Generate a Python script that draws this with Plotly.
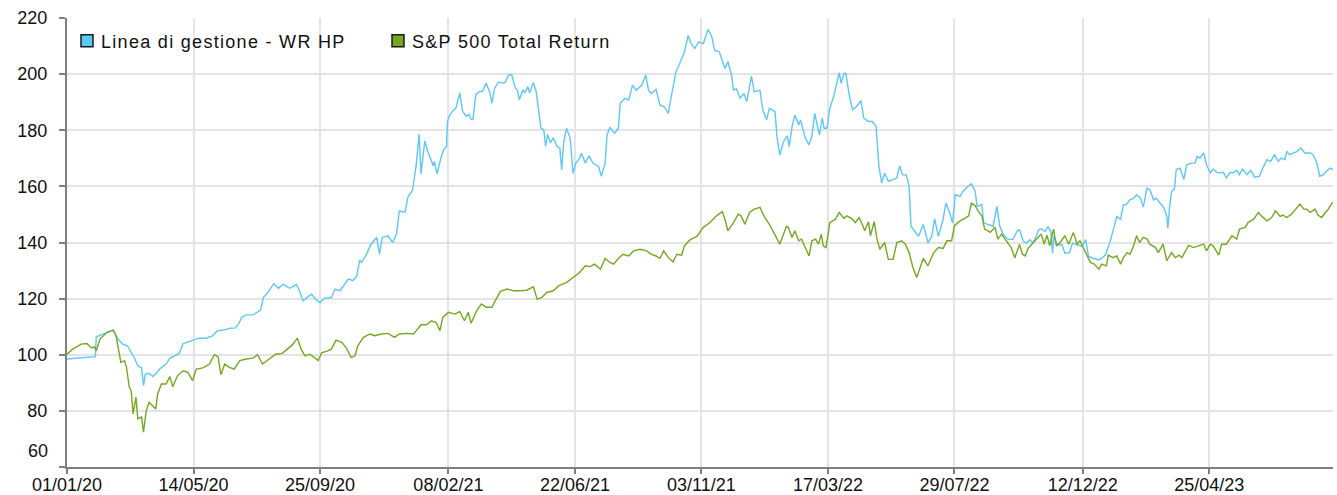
import pandas as pd
import plotly.graph_objects as go

START = "2020-01-01"

# ---- data (days since 01/01/2020, index values) ----
blue_name = "Linea di gestione - WR HP"
blue_days = [
    0, 15, 30, 31, 40, 49, 54, 59, 64, 68,
    72, 75, 79, 81, 83, 87, 91, 94, 98, 105,
    109, 114, 119, 123, 130, 135, 140, 147, 154, 159,
    166, 173, 178, 182, 185, 190, 197, 205, 208, 212,
    219, 224, 229, 236, 243, 247, 250, 256, 259, 264,
    268, 273, 280, 284, 289, 293, 298, 303, 307, 310,
    312, 317, 322, 328, 331, 334, 340, 345, 349, 352,
    358, 361, 366, 370, 373, 375, 379, 382, 388, 389,
    392, 396, 399, 402, 403, 405, 408, 412, 414, 416,
    419, 423, 426, 428, 430, 433, 437, 440, 444, 448,
    450, 453, 457, 461, 464, 468, 471, 475, 477, 479,
    483, 485, 488, 490, 494, 497, 499, 502, 505, 507,
    509, 512, 515, 519, 522, 524, 526, 529, 533, 536,
    539, 542, 545, 549, 553, 557, 563, 566, 570, 572,
    575, 580, 584, 586, 591, 595, 599, 603, 609, 613,
    616, 619, 624, 628, 633, 637, 640, 645, 649, 654,
    658, 661, 665, 669, 674, 677, 679, 683, 686, 691,
    697, 700, 704, 706, 709, 713, 717, 720, 725, 728,
    734, 737, 741, 744, 750, 752, 755, 759, 763, 765,
    768, 771, 775, 777, 782, 786, 789, 792, 795, 797,
    800, 802, 805, 808, 812, 815, 818, 820, 823, 825,
    828, 832, 836, 841, 844, 849, 853, 857, 860, 863,
    866, 870, 875, 879, 882, 885, 889, 892, 894, 898,
    902, 907, 912, 916, 919, 923, 928, 931, 935, 938,
    941, 946, 949, 955, 958, 962, 964, 969, 971, 976,
    981, 985, 988, 992, 997, 1002, 1007, 1009, 1013, 1016,
    1020, 1023, 1027, 1029, 1032, 1036, 1039, 1042, 1044, 1045,
    1049, 1054, 1057, 1062, 1065, 1070, 1075, 1079, 1082, 1087,
    1093, 1096, 1100, 1105, 1108, 1112, 1116, 1119, 1122, 1126,
    1130, 1133, 1137, 1140, 1144, 1147, 1151, 1154, 1158, 1162,
    1165, 1166, 1168, 1170, 1173, 1175, 1179, 1182, 1183, 1186,
    1191, 1195, 1197, 1200, 1204, 1207, 1211, 1214, 1218, 1221,
    1225, 1228, 1232, 1235, 1239, 1242, 1245, 1250, 1254, 1258,
    1263, 1266, 1271, 1275, 1279, 1283, 1286, 1290, 1292, 1295,
    1299, 1303, 1307, 1311, 1317, 1320, 1324, 1327, 1331, 1334,
    1338, 1341,
]
blue_values = [
    98.5, 98.9, 99.3, 106.4, 107.5, 108.8, 105.6, 103.8, 103.2, 100.8,
    98.5, 96.1, 95.3, 89.0, 93.1, 93.4, 92.2, 93.1, 94.9, 96.7,
    98.8, 99.6, 100.5, 104.0, 104.7, 105.2, 105.9, 105.9, 106.7, 108.5,
    108.8, 109.5, 109.5, 111.1, 113.3, 114.2, 114.2, 115.9, 120.4, 121.8,
    125.3, 123.7, 125.1, 123.7, 125.1, 122.1, 119.2, 120.9, 121.6, 119.5,
    118.6, 120.2, 120.4, 123.4, 122.8, 124.6, 127.0, 126.4, 128.1, 133.7,
    132.9, 135.6, 139.4, 141.8, 135.9, 141.8, 142.4, 140.0, 143.0, 151.3,
    150.7, 156.1, 158.7, 167.9, 178.6, 164.4, 176.2, 172.6, 167.3, 169.0,
    164.4, 170.0, 173.1, 174.3, 183.2, 185.0, 186.7, 187.9, 190.3, 193.3,
    186.7, 185.0, 185.6, 183.8, 183.8, 192.7, 193.8, 193.8, 196.8, 193.3,
    189.7, 195.0, 197.2, 196.8, 197.0, 199.8, 199.8, 195.0, 194.4, 190.9,
    194.4, 193.3, 195.6, 193.3, 197.0, 193.8, 188.5, 180.8, 180.2, 174.3,
    178.5, 175.5, 177.3, 174.3, 173.6, 165.9, 175.4, 180.7, 177.2, 164.7,
    168.3, 169.5, 171.8, 168.3, 170.9, 168.3, 167.1, 163.6, 168.3, 178.3,
    181.1, 178.9, 180.7, 189.6, 191.4, 190.8, 196.1, 194.3, 196.1, 199.6,
    194.3, 193.1, 194.6, 189.0, 188.2, 186.0, 192.0, 200.8, 203.8, 207.9,
    213.8, 210.9, 209.1, 211.5, 210.9, 214.4, 215.9, 213.3, 208.5, 207.9,
    202.0, 204.4, 199.6, 194.3, 194.9, 191.4, 193.1, 190.2, 199.3, 193.7,
    194.3, 187.2, 183.7, 187.8, 186.6, 177.8, 171.2, 176.0, 178.0, 174.2,
    181.3, 185.4, 181.9, 183.7, 177.2, 174.8, 177.8, 186.0, 180.7, 178.3,
    184.3, 180.7, 180.7, 187.8, 192.0, 196.1, 200.5, 196.7, 200.2, 200.2,
    193.7, 187.2, 188.4, 190.5, 184.3, 183.1, 183.1, 181.3, 167.1, 161.2,
    164.7, 161.8, 162.4, 163.0, 167.3, 164.1, 164.1, 160.0, 145.8, 144.0,
    142.2, 146.4, 139.9, 142.2, 148.4, 142.2, 148.2, 154.1, 150.5, 147.0,
    157.0, 156.4, 158.2, 160.2, 160.9, 158.2, 152.9, 153.5, 147.0, 146.4,
    145.8, 152.9, 145.8, 142.8, 141.1, 141.1, 144.4, 144.5, 140.4, 139.8,
    141.0, 139.8, 142.4, 144.5, 144.8, 143.9, 145.7, 143.9, 136.2, 142.1,
    139.2, 139.2, 136.2, 136.4, 139.8, 139.2, 138.6, 141.0, 135.0, 134.4,
    133.8, 134.4, 135.6, 140.4, 144.5, 149.3, 148.3, 153.5, 153.5, 155.2,
    155.8, 157.0, 155.8, 152.6, 159.4, 158.8, 155.2, 155.8, 154.0, 152.3,
    149.3, 145.1, 152.9, 158.2, 159.0, 166.0, 166.5, 163.6, 162.4, 167.7,
    168.3, 168.3, 170.7, 170.1, 171.9, 167.7, 164.8, 166.2, 165.0, 164.8,
    165.0, 163.0, 165.0, 164.8, 165.7, 164.2, 166.2, 164.2, 165.7, 163.3,
    163.6, 166.0, 169.5, 168.9, 171.3, 168.9, 170.1, 169.5, 172.5, 171.3,
    171.9, 172.5, 173.7, 171.9, 171.9, 171.3, 168.3, 163.6, 164.2, 165.4,
    166.5, 166.0,
]

green_name = "S&P 500 Total Return"
green_days = [
    0, 6, 15, 21, 26, 29, 31, 35, 42, 49,
    52, 55, 57, 61, 63, 66, 68, 70, 73, 75,
    79, 81, 84, 87, 91, 94, 96, 100, 105, 109,
    112, 117, 123, 128, 133, 137, 144, 151, 156, 160,
    163, 167, 172, 177, 183, 190, 197, 202, 207, 214,
    221, 228, 235, 239, 244, 248, 252, 257, 262, 266,
    270, 275, 280, 285, 291, 296, 301, 305, 308, 314,
    321, 326, 333, 340, 347, 352, 360, 367, 370, 375,
    381, 386, 391, 395, 398, 404, 411, 416, 421, 425,
    428, 434, 439, 444, 450, 455, 459, 466, 473, 480,
    487, 494, 498, 503, 508, 515, 521, 529, 536, 543,
    549, 554, 559, 565, 570, 575, 579, 584, 589, 595,
    600, 607, 614, 619, 624, 628, 632, 637, 642, 646,
    651, 654, 660, 667, 674, 681, 688, 694, 697, 700,
    706, 711, 714, 718, 723, 728, 734, 739, 744, 750,
    755, 762, 764, 768, 771, 775, 778, 782, 786, 789,
    793, 796, 799, 801, 804, 808, 814, 818, 823, 826,
    831, 835, 839, 843, 845, 849, 851, 855, 858, 861,
    866, 870, 875, 879, 884, 888, 892, 896, 900, 903,
    907, 912, 918, 923, 928, 932, 937, 940, 946, 951,
    955, 958, 962, 966, 969, 972, 978, 983, 986, 990,
    995, 1000, 1004, 1009, 1012, 1015, 1018, 1022, 1025, 1029,
    1032, 1035, 1038, 1041, 1045, 1048, 1052, 1057, 1061, 1066,
    1070, 1073, 1077, 1080, 1084, 1088, 1093, 1096, 1101, 1103,
    1108, 1112, 1116, 1119, 1123, 1126, 1130, 1133, 1136, 1140,
    1144, 1147, 1153, 1156, 1161, 1165, 1170, 1174, 1178, 1181,
    1184, 1188, 1193, 1198, 1204, 1207, 1211, 1214, 1220, 1223,
    1228, 1234, 1239, 1242, 1248, 1251, 1257, 1262, 1265, 1271,
    1276, 1280, 1285, 1288, 1292, 1297, 1303, 1306, 1310, 1313,
    1317, 1322, 1325, 1329, 1333, 1336, 1340, 1341,
]
green_values = [
    100.2, 102.0, 103.8, 104.0, 102.4, 102.8, 101.4, 105.6, 107.9, 108.8,
    106.7, 100.2, 97.3, 97.9, 95.5, 88.4, 87.2, 78.9, 84.9, 77.2,
    77.8, 72.4, 80.1, 83.1, 81.9, 80.7, 86.0, 89.6, 89.6, 92.2,
    88.6, 92.5, 94.3, 93.7, 90.8, 94.9, 95.3, 96.7, 100.0, 99.3,
    92.9, 96.7, 95.5, 94.9, 97.9, 98.5, 98.8, 100.0, 96.7, 98.5,
    100.2, 100.5, 102.6, 103.6, 105.9, 102.0, 99.6, 100.2, 99.0, 97.9,
    100.8, 101.2, 102.0, 105.2, 104.4, 102.4, 99.0, 99.6, 103.2, 106.2,
    107.4, 106.8, 107.4, 107.6, 106.2, 107.4, 107.6, 107.4, 108.6, 110.7,
    110.7, 112.1, 111.5, 108.6, 113.3, 115.1, 114.5, 115.4, 112.1, 115.1,
    111.2, 115.7, 118.1, 116.9, 116.9, 120.4, 122.6, 123.4, 122.8, 122.8,
    123.0, 124.2, 119.8, 120.4, 122.2, 122.8, 124.6, 125.7, 127.5, 129.3,
    131.7, 131.4, 132.3, 130.5, 134.3, 132.9, 132.3, 134.3, 135.8, 135.2,
    137.0, 137.6, 137.0, 135.8, 135.2, 134.3, 137.0, 134.6, 133.1, 135.8,
    135.5, 138.8, 141.0, 142.1, 145.4, 147.1, 149.5, 151.0, 148.3, 144.2,
    147.1, 150.1, 149.5, 146.5, 150.7, 151.9, 152.5, 148.9, 146.5, 142.4,
    139.4, 145.7, 145.4, 141.8, 144.2, 140.6, 141.2, 138.2, 135.2, 140.6,
    141.2, 139.4, 143.0, 138.8, 138.2, 147.1, 148.3, 150.7, 148.6, 149.5,
    148.6, 147.1, 148.9, 146.0, 144.2, 147.4, 142.4, 147.4, 141.2, 137.6,
    140.0, 134.0, 134.0, 140.0, 140.6, 139.4, 136.4, 131.1, 127.5, 130.5,
    134.3, 131.7, 136.4, 138.2, 137.9, 140.6, 140.6, 146.0, 147.7, 148.6,
    149.5, 154.0, 153.1, 150.7, 149.5, 144.8, 143.6, 145.4, 141.2, 143.0,
    140.6, 138.2, 134.6, 139.4, 135.8, 135.2, 137.9, 139.4, 140.2, 141.8,
    143.0, 139.4, 142.6, 138.8, 144.8, 138.8, 140.0, 142.4, 139.4, 143.6,
    139.4, 140.6, 137.6, 135.8, 132.9, 132.3, 130.5, 132.3, 131.7, 135.5,
    134.6, 135.2, 132.3, 134.6, 136.4, 135.8, 139.0, 142.4, 140.0, 141.8,
    141.2, 139.4, 138.2, 136.4, 139.4, 133.5, 136.4, 134.6, 135.5, 134.6,
    136.4, 139.0, 138.2, 138.8, 139.4, 137.0, 139.4, 138.8, 135.5, 139.4,
    139.4, 142.4, 141.2, 144.8, 145.4, 147.1, 148.3, 150.7, 149.5, 147.7,
    148.9, 151.3, 149.3, 149.8, 148.9, 150.1, 152.5, 153.7, 151.9, 151.9,
    150.7, 151.9, 149.8, 148.9, 150.7, 151.9, 154.0, 154.3,
]

tick_dates = ["2020-01-01", "2020-05-14", "2020-09-25", "2021-02-08", "2021-06-22",
              "2021-11-03", "2022-03-17", "2022-07-29", "2022-12-12", "2023-04-25"]
tick_labels = ["01/01/20", "14/05/20", "25/09/20", "08/02/21", "22/06/21",
               "03/11/21", "17/03/22", "29/07/22", "12/12/22", "25/04/23"]
y_ticks = [60, 80, 100, 120, 140, 160, 180, 200, 220]
y_labels = ["", "80", "100", "120", "140", "160", "180", "200", "220"]
y_bottom_label = "60"
x_end = "2023-09-03"

BLUE = "#5CC8F8"
GREEN = "#74A820"

assert len(blue_days) == len(blue_values)
assert len(green_days) == len(green_values)

start = pd.Timestamp(START)
bx = start + pd.to_timedelta(blue_days, unit="D")
gx = start + pd.to_timedelta(green_days, unit="D")

fig = go.Figure()
fig.add_trace(go.Scatter(x=bx, y=blue_values, mode="lines", name=blue_name,
                         line=dict(color=BLUE, width=1.4), showlegend=False))
fig.add_trace(go.Scatter(x=gx, y=green_values, mode="lines", name=green_name,
                         line=dict(color=GREEN, width=1.4), showlegend=False))
# legend entries with square swatches
for nm, col in [(blue_name, BLUE), (green_name, GREEN)]:
    fig.add_trace(go.Scatter(x=[None], y=[None], mode="markers", name=nm,
                             marker=dict(symbol="square", size=12, color=col,
                                         line=dict(color="#1a1a1a", width=1.5))))

FONT = "Liberation Sans, Arial, sans-serif"
fig.update_layout(
    width=1337, height=495,
    margin=dict(l=67, r=4, t=18, b=28),
    paper_bgcolor="white", plot_bgcolor="white",
    font=dict(family=FONT, size=18, color="#111111"),
    showlegend=True,
    legend=dict(orientation="h", x=0.0, y=0.99, xanchor="left", yanchor="top",
                bgcolor="rgba(0,0,0,0)", borderwidth=0,
                font=dict(family=FONT, size=18, color="#111111"),
                entrywidth=266, entrywidthmode="pixels", itemwidth=30),
    xaxis=dict(
        type="date", range=[START, x_end],
        tickmode="array", tickvals=tick_dates, ticktext=tick_labels,
        showgrid=True, gridcolor="#E4E4E4", gridwidth=2,
        showline=True, linecolor="#7F7F7F", linewidth=2,
        ticks="outside", ticklen=5, tickwidth=1.5, tickcolor="#7F7F7F",
        tickfont=dict(family=FONT, size=18, color="#111111"),
        ticklabelstandoff=-5,
        zeroline=False, automargin=False,
    ),
    yaxis=dict(
        range=[60, 220], tickmode="array", tickvals=y_ticks, ticktext=y_labels,
        showgrid=True, gridcolor="#E4E4E4", gridwidth=2,
        showline=True, linecolor="#7F7F7F", linewidth=2,
        ticks="outside", ticklen=6, tickwidth=1.5, tickcolor="#7F7F7F",
        tickfont=dict(family=FONT, size=18, color="#111111"),
        ticklabelstandoff=8,
        zeroline=False, automargin=False,
    ),
    annotations=[dict(text=y_bottom_label, xref="paper", yref="y", x=0, y=y_ticks[0],
                      xanchor="right", yanchor="middle", xshift=-17, yshift=16,
                      showarrow=False, font=dict(family=FONT, size=18, color="#111111"))],
)

post = (
    "document.body.style.margin='0';"
    "document.body.style.padding='0';"
    "document.body.style.overflow='hidden';"
    "function _sp(){document.querySelectorAll('.legendtext').forEach(function(t){"
    "t.style.letterSpacing='1.3px';t.setAttribute('x','34');});}"
    "_sp();setTimeout(_sp,0);"
    "var _gd=document.getElementById('{plot_id}');"
    "if(_gd&&_gd.on){_gd.on('plotly_afterplot',_sp);}"
)
fig.write_html("out.html", post_script=post, config={"displayModeBar": False})
